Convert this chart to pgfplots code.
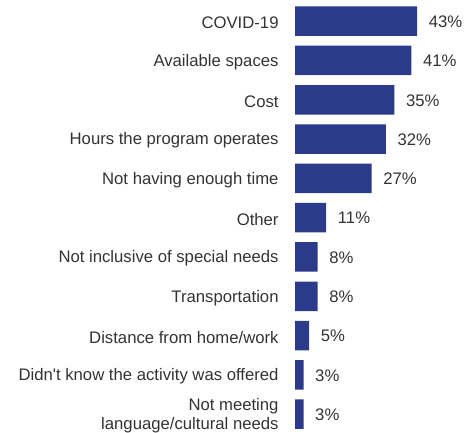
\documentclass[border=0pt]{standalone}
\usepackage{pgfplots}
\pgfplotsset{compat=1.18}
\usepackage{fontspec}
\setmainfont{Liberation Sans}
\definecolor{barblue}{HTML}{2B3A8A}
\definecolor{txt}{HTML}{333333}
\begin{document}
\begin{tikzpicture}
\begin{axis}[
  at={(295bp,-0.8bp)}, anchor=south west,
  scale only axis,
  width=170.4bp, height=432.3bp,
  xbar, bar width=29.5bp,
  xmin=0, xmax=60,
  ymin=-0.5, ymax=10.5, y dir=reverse,
  axis line style={draw=none}, tick style={draw=none},
  xtick=\empty,
  ytick={0,...,10},
  yticklabels={COVID-19,Available spaces,Cost,Hours the program operates,Not having enough time,Other,Not inclusive of special needs,Transportation,Distance from home/work,Didn\textquotesingle t know the activity was offered,{Not meeting\\language/cultural needs}},
  yticklabel style={anchor=east, inner sep=0pt, xshift=-12bp, yshift=-1.5bp, align=right, font=\fontsize{16.7bp}{18.5bp}\selectfont, text=txt},
  /pgf/number format/assume math mode=true,
  nodes near coords={\pgfmathprintnumber{\pgfplotspointmeta}\%},
  nodes near coords style={anchor=west, inner sep=0pt, xshift=11.5bp, yshift=-0.5bp, font=\fontsize{16.7bp}{18.5bp}\selectfont, text=txt},
  clip=false,
]
\addplot[fill=barblue, draw=none] coordinates {
(43,0) (41,1) (35,2) (32,3) (27,4) (11,5) (8,6) (8,7) (5,8) (3,9) (3,10)
};
\end{axis}
\pgfresetboundingbox
\path[use as bounding box] (0,0) rectangle (467bp,433bp);
\end{tikzpicture}
\end{document}
